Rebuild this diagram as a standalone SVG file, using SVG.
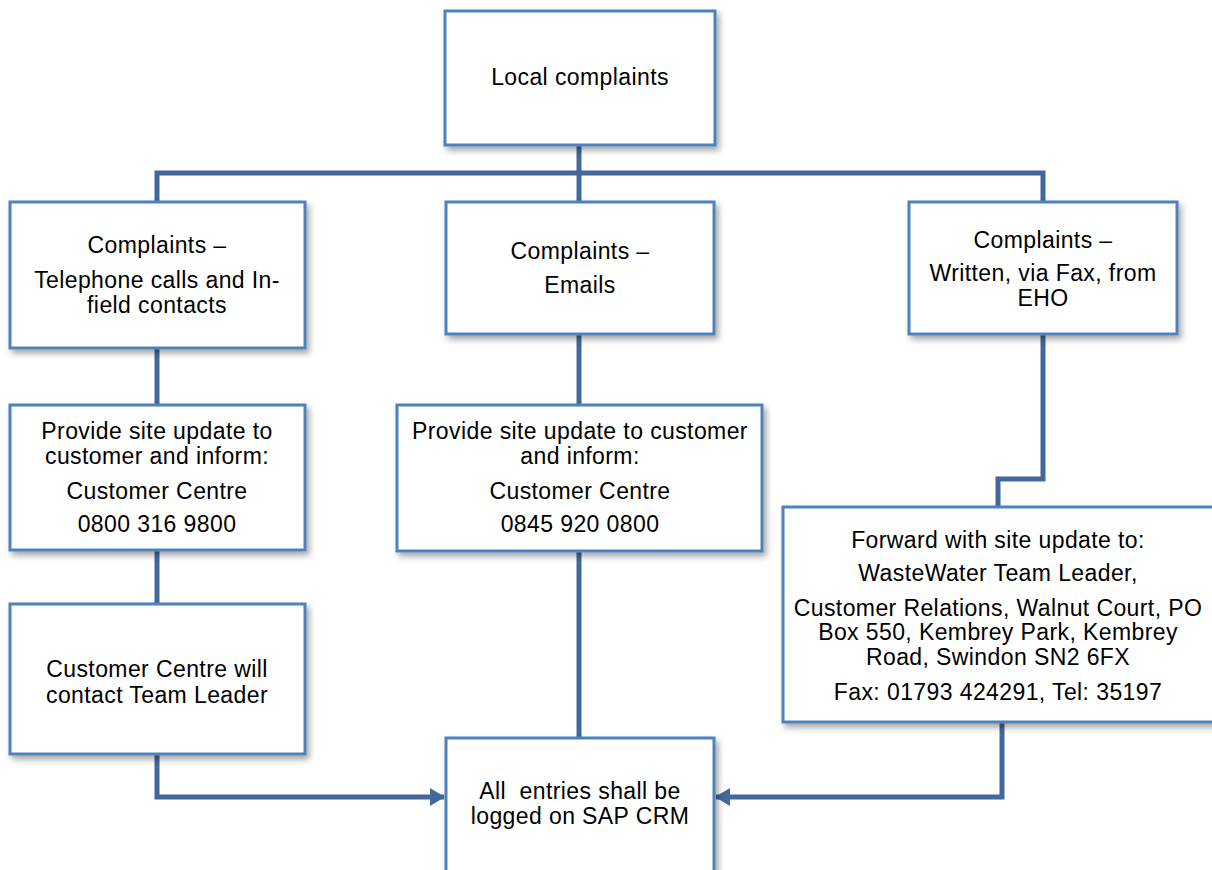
<svg xmlns="http://www.w3.org/2000/svg" width="1212" height="870" viewBox="0 0 1212 870">
<style>
.box{fill:#fff;stroke:#4F81BD;stroke-width:3;filter:url(#sh)}
.t{font-family:"Liberation Sans",Arial,sans-serif;font-size:23px;letter-spacing:0.4px;fill:#000;text-anchor:middle}
.c{fill:none;stroke:#41699C;stroke-width:5}
</style>
<defs>
<filter id="sh" x="-10%" y="-10%" width="130%" height="130%">
<feDropShadow dx="3" dy="4" stdDeviation="3" flood-color="#000" flood-opacity="0.35"/>
</filter>
<marker id="ah" markerUnits="userSpaceOnUse" markerWidth="16" markerHeight="18" refX="14" refY="9" orient="auto">
<path d="M0,0 L15,9 L0,18 Z" fill="#41699C"/>
</marker>
</defs>
<rect width="1212" height="870" fill="#fff"/>
<g id="connectors">
<path class="c" d="M579,145 V201"/>
<path class="c" d="M157,201 V173 H1043 V201"/>
<path class="c" d="M157,348 V404"/>
<path class="c" d="M157,550 V603"/>
<path class="c" d="M157,754 V797 H444" marker-end="url(#ah)"/>
<path class="c" d="M579,334 V405"/>
<path class="c" d="M579,551 V738"/>
<path class="c" d="M1043,334 V479 H998 V507"/>
<path class="c" d="M1002,722 V797 H716" marker-end="url(#ah)"/>
</g>
<g id="n-local">
<rect class="box" x="445" y="11" width="270" height="134"/>
<text class="t" x="580" y="85">Local complaints</text>
</g>
<g id="n-phone">
<rect class="box" x="10" y="202" width="295" height="146"/>
<text class="t" x="157" y="253">Complaints –</text>
<text class="t" x="157" y="288">Telephone calls and In-</text>
<text class="t" x="157" y="313">field contacts</text>
</g>
<g id="n-email">
<rect class="box" x="446" y="202" width="268" height="132"/>
<text class="t" x="580" y="259">Complaints –</text>
<text class="t" x="580" y="293">Emails</text>
</g>
<g id="n-written">
<rect class="box" x="909" y="202" width="268" height="132"/>
<text class="t" x="1043" y="248">Complaints –</text>
<text class="t" x="1043" y="281">Written, via Fax, from</text>
<text class="t" x="1043" y="306">EHO</text>
</g>
<g id="n-update1">
<rect class="box" x="10" y="405" width="295" height="145"/>
<text class="t" x="157" y="439">Provide site update to</text>
<text class="t" x="157" y="464">customer and inform:</text>
<text class="t" x="157" y="499">Customer Centre</text>
<text class="t" x="157" y="532">0800 316 9800</text>
</g>
<g id="n-update2">
<rect class="box" x="397" y="405" width="365" height="146"/>
<text class="t" x="580" y="439">Provide site update to customer</text>
<text class="t" x="580" y="464">and inform:</text>
<text class="t" x="580" y="499">Customer Centre</text>
<text class="t" x="580" y="532">0845 920 0800</text>
</g>
<g id="n-forward">
<rect class="box" x="783" y="507" width="450" height="215"/>
<text class="t" x="998" y="548">Forward with site update to:</text>
<text class="t" x="998" y="581">WasteWater Team Leader,</text>
<text class="t" x="998" y="616">Customer Relations, Walnut Court, PO</text>
<text class="t" x="998" y="640">Box 550, Kembrey Park, Kembrey</text>
<text class="t" x="998" y="665">Road, Swindon SN2 6FX</text>
<text class="t" x="998" y="700">Fax: 01793 424291, Tel: 35197</text>
</g>
<g id="n-contact">
<rect class="box" x="10" y="604" width="295" height="150"/>
<text class="t" x="157" y="677">Customer Centre will</text>
<text class="t" x="157" y="703">contact Team Leader</text>
</g>
<g id="n-sap">
<rect class="box" x="446" y="738" width="268" height="140"/>
<text class="t" x="580" y="799" xml:space="preserve">All  entries shall be</text>
<text class="t" x="580" y="824">logged on SAP CRM</text>
</g>
</svg>
